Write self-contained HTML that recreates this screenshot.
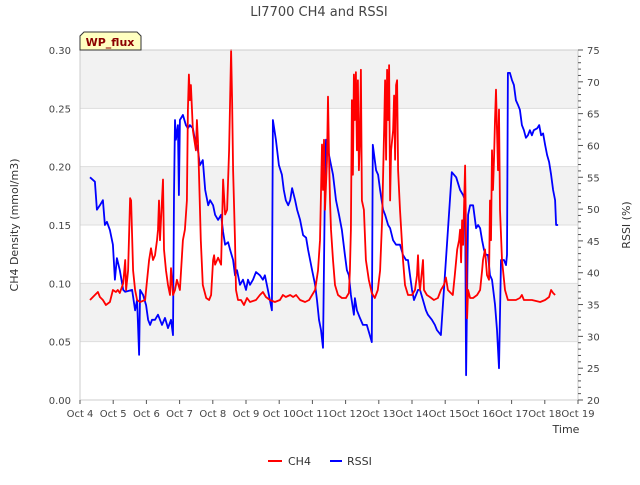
<!DOCTYPE html>
<html><head><meta charset="utf-8"><style>
body{margin:0;background:#fff;}
svg{font-family:"DejaVu Sans","Liberation Sans",sans-serif;}
</style></head><body>
<svg id="chart" width="640" height="480" viewBox="0 0 640 480" xmlns="http://www.w3.org/2000/svg">
<text x="319" y="16" text-anchor="middle" font-size="13" fill="#444">LI7700 CH4 and RSSI</text>
<g id="bands"></g>
<g id="grid"></g>
<g id="series"></g>
<g id="axes"></g>
<text transform="translate(18,225) rotate(-90)" text-anchor="middle" font-size="11" fill="#333">CH4 Density (mmol/m3)</text>
<text transform="translate(630,225) rotate(-90)" text-anchor="middle" font-size="11" fill="#333">RSSI (%)</text>
<text x="566" y="433" text-anchor="middle" font-size="11" fill="#333">Time</text>
<g>
<path d="M84,32 L137,32 L141,36 L141,50 L80,50 L80,36 Z" fill="#ffffc0" stroke="#333" stroke-width="1"/>
<text x="110" y="46" text-anchor="middle" font-size="11" font-weight="bold" fill="#8b0000">WP_flux</text>
</g>
<g>
<g><line x1="268" y1="461" x2="282" y2="461" stroke="#f00" stroke-width="2"/><text x="288" y="465" font-size="11" fill="#333">CH4</text></g>
<g><line x1="330" y1="461" x2="342" y2="461" stroke="#00f" stroke-width="2"/><text x="347" y="465" font-size="11" fill="#333">RSSI</text></g>
</g>
</svg>
<script>
const ch4Days=[.30,.45,.54,.60,.69,.78,.90,.99,1.08,1.14,1.20,1.30,1.36,1.39,1.45,1.51,1.54,1.60,1.66,1.72,1.81,1.96,2.02,2.08,2.14,2.20,2.26,2.32,2.35,2.38,2.41,2.50,2.53,2.59,2.65,2.71,2.74,2.80,2.86,2.92,3.01,3.10,3.16,3.22,3.25,3.28,3.31,3.34,3.40,3.49,3.52,3.55,3.58,3.64,3.70,3.80,3.89,3.95,4.01,4.04,4.07,4.16,4.25,4.31,4.37,4.43,4.49,4.55,4.58,4.61,4.67,4.70,4.76,4.85,4.94,5.03,5.12,5.30,5.42,5.51,5.60,5.72,5.87,6.02,6.11,6.20,6.33,6.42,6.51,6.63,6.78,6.90,6.99,7.08,7.17,7.23,7.29,7.32,7.35,7.38,7.44,7.47,7.50,7.53,7.56,7.62,7.68,7.77,7.89,8.01,8.10,8.13,8.16,8.19,8.22,8.25,8.28,8.31,8.34,8.37,8.40,8.43,8.46,8.49,8.55,8.61,8.70,8.79,8.88,8.97,9.04,9.10,9.16,9.19,9.22,9.25,9.28,9.31,9.34,9.37,9.43,9.46,9.49,9.52,9.55,9.58,9.64,9.73,9.79,9.88,10.00,10.09,10.15,10.18,10.21,10.24,10.30,10.33,10.36,10.45,10.54,10.66,10.78,10.87,10.96,11.02,11.08,11.14,11.23,11.29,11.36,11.42,11.45,11.48,11.51,11.54,11.60,11.63,11.66,11.69,11.75,11.84,11.96,12.05,12.11,12.14,12.20,12.26,12.32,12.35,12.38,12.41,12.44,12.47,12.50,12.53,12.56,12.59,12.62,12.65,12.71,12.80,12.89,13.13,13.25,13.31,13.37,13.61,13.86,14.01,14.13,14.19,14.25,14.31];
const ch4Values=[.0857,.090,.0926,.0883,.0857,.0814,.084,.0943,.0926,.0943,.0917,.100,.120,.0943,.111,.173,.171,.111,.0943,.0857,.084,.0857,.103,.120,.130,.120,.124,.137,.146,.171,.137,.189,.129,.111,.0986,.090,.113,.090,.0943,.103,.0943,.137,.146,.171,.249,.279,.257,.270,.231,.214,.240,.223,.197,.137,.0986,.0874,.0857,.090,.120,.124,.116,.122,.116,.189,.159,.163,.214,.300,.257,.197,.137,.0943,.0857,.0857,.0814,.0874,.084,.0857,.090,.0926,.0883,.0857,.084,.0857,.090,.0883,.090,.0883,.090,.0857,.084,.0857,.090,.0943,.111,.137,.219,.180,.223,.163,.206,.260,.210,.171,.146,.120,.0986,.090,.0874,.0874,.0917,.111,.146,.257,.193,.279,.240,.281,.214,.274,.197,.223,.283,.171,.163,.120,.103,.0917,.0874,.0943,.111,.154,.231,.274,.206,.283,.240,.287,.171,.214,.231,.261,.206,.270,.274,.197,.163,.120,.0986,.090,.090,.0943,.107,.124,.103,.0943,.111,.120,.0943,.090,.0883,.0857,.0874,.0943,.0986,.105,.0943,.0926,.090,.107,.129,.137,.146,.118,.154,.133,.201,.137,.070,.0943,.0874,.0874,.090,.0943,.111,.120,.129,.107,.103,.171,.137,.214,.180,.206,.240,.266,.231,.197,.249,.163,.120,.0943,.0857,.0857,.0874,.090,.0857,.0857,.084,.0857,.0883,.0943,.0917,.090];
const rssiDays=[.30,.45,.51,.60,.69,.75,.81,.90,.99,1.05,1.11,1.20,1.30,1.36,1.57,1.66,1.72,1.78,1.81,1.90,1.99,2.05,2.11,2.17,2.26,2.35,2.47,2.56,2.65,2.74,2.80,2.83,2.86,2.89,2.95,2.98,3.01,3.10,3.19,3.25,3.31,3.40,3.46,3.55,3.61,3.70,3.77,3.86,3.92,4.01,4.07,4.16,4.25,4.31,4.37,4.46,4.52,4.61,4.67,4.73,4.82,4.91,5.00,5.06,5.12,5.21,5.30,5.42,5.51,5.57,5.66,5.72,5.78,5.81,5.90,5.99,6.08,6.14,6.20,6.27,6.33,6.39,6.48,6.54,6.63,6.72,6.81,6.87,6.93,6.99,7.08,7.14,7.20,7.26,7.32,7.38,7.41,7.47,7.53,7.62,7.71,7.80,7.89,7.98,8.04,8.10,8.16,8.25,8.28,8.34,8.43,8.52,8.64,8.73,8.79,8.82,8.92,8.98,9.04,9.13,9.19,9.28,9.34,9.43,9.52,9.64,9.73,9.82,9.88,9.94,10.00,10.06,10.12,10.18,10.24,10.33,10.42,10.48,10.60,10.69,10.75,10.87,11.20,11.33,11.45,11.54,11.60,11.63,11.69,11.75,11.84,11.93,11.99,12.05,12.11,12.17,12.23,12.29,12.35,12.41,12.50,12.56,12.62,12.68,12.77,12.83,12.86,12.89,12.95,13.01,13.07,13.13,13.19,13.25,13.31,13.37,13.43,13.49,13.55,13.61,13.67,13.77,13.83,13.89,13.95,14.01,14.07,14.13,14.19,14.25,14.31,14.34,14.40];
const rssiValues=[55.0,54.3,49.9,50.6,51.4,47.5,48.0,46.7,44.4,38.9,42.3,40.4,37.3,37.0,37.3,34.1,35.7,27.1,37.3,36.5,34.9,32.6,31.8,32.6,32.6,33.4,31.8,32.9,31.3,32.6,30.2,52.2,64.0,60.9,63.2,52.2,64.0,64.8,63.2,62.7,63.2,62.7,60.9,59.3,56.9,57.7,53.0,50.6,51.4,50.6,49.1,48.3,49.1,46.4,44.4,44.8,43.6,42.0,39.6,40.4,38.1,38.9,37.3,38.9,38.1,38.9,40.1,39.6,38.9,39.6,37.3,35.7,34.1,64.0,60.9,56.9,55.4,53.0,51.4,50.6,51.4,53.3,51.4,49.9,48.3,45.9,45.5,43.6,42.0,40.4,38.1,35.7,32.6,31.0,28.2,54.6,60.9,59.3,57.7,55.4,51.4,49.1,46.7,42.8,40.4,39.6,36.5,33.4,36.0,34.1,32.9,31.8,31.8,30.2,29.1,60.1,56.1,55.4,53.0,49.9,49.1,47.5,47.0,45.1,44.4,44.4,42.8,42.0,42.0,39.6,37.3,35.7,36.5,37.3,37.3,35.7,34.1,33.4,32.6,31.8,31.0,30.2,55.8,55.0,53.0,52.2,51.4,23.9,49.1,50.6,50.6,47.0,47.5,47.0,45.1,43.6,42.8,42.8,39.6,38.9,35.0,31.0,25.0,42.0,42.0,41.2,42.8,71.4,71.4,70.3,69.5,67.1,66.4,65.6,63.2,62.4,61.2,61.6,62.4,61.6,62.4,62.7,63.2,61.6,61.9,60.1,58.5,57.4,55.4,53.0,51.4,47.5,47.5];
const xTickLabels=["Oct 4","Oct 5","Oct 6","Oct 7","Oct 8","Oct 9","Oct 10","Oct 11","Oct 12","Oct 13","Oct 14","Oct 15","Oct 16","Oct 17","Oct 18","Oct 19"];
const leftTicks=[0,0.05,0.10,0.15,0.20,0.25,0.30];
const rightTicks=[20,25,30,35,40,45,50,55,60,65,70,75];

const X0=80,X1=578,Y0=400,Y1=50;
const xScale=d=>X0+(d/15)*(X1-X0);
const yLeft=v=>Y0-(v/0.30)*(Y0-Y1);
const yRight=v=>Y0-((v-20)/55)*(Y0-Y1);
const NS="http://www.w3.org/2000/svg";
function mk(tag,attrs,parent){const e=document.createElementNS(NS,tag);for(const k in attrs)e.setAttribute(k,attrs[k]);parent.appendChild(e);return e;}
const bands=document.getElementById('bands'),grid=document.getElementById('grid'),axes=document.getElementById('axes'),series=document.getElementById('series');
for(let i=0;i<leftTicks.length-1;i++){
  if(i%2===1){const r=mk('rect',{x:X0,y:yLeft(leftTicks[i+1]),width:X1-X0,height:yLeft(leftTicks[i])-yLeft(leftTicks[i+1]),fill:'#f2f2f2'},bands);
  
  }
}
leftTicks.forEach(t=>{
  const l=mk('line',{x1:X0,x2:X1,y1:yLeft(t),y2:yLeft(t),stroke:'#ddd','stroke-width':1},grid);
  
  
  const tx=mk('text',{x:X0-9,y:yLeft(t)+4,'text-anchor':'end','font-size':10,fill:'#444'},axes);
  tx.textContent=t.toFixed(2);
  
  
});
const frame=mk('rect',{x:X0,y:Y1,width:X1-X0,height:Y0-Y1,fill:'none',stroke:'#ccc','stroke-width':1},axes);


xTickLabels.forEach((lab,i)=>{
  const x=xScale(i);
  mk('line',{x1:x,x2:x,y1:Y0,y2:Y0+4,stroke:'#555'},axes);
  const tx=mk('text',{x:x,y:Y0+17,'text-anchor':'middle','font-size':10,fill:'#444'},axes);
  tx.textContent=lab;
  
  
});
for(let v=20;v<=75;v++){
  const y=yRight(v);
  mk('line',{x1:X1,x2:X1+(v%5===0?5:3),y1:y,y2:y,stroke:'#555'},axes);
}
rightTicks.forEach(t=>{
  const tx=mk('text',{x:X1+9,y:yRight(t)+4,'font-size':10,fill:'#444'},axes);
  tx.textContent=t;
  
  
});
const rp=rssiDays.map((d,i)=>(i?'L':'M')+xScale(d).toFixed(1)+','+yRight(rssiValues[i]).toFixed(1)).join('');
const rl=mk('path',{d:rp,fill:'none',stroke:'#00f','stroke-width':1.8,'stroke-linejoin':'round'},series);


const cp=ch4Days.map((d,i)=>(i?'L':'M')+xScale(d).toFixed(1)+','+yLeft(ch4Values[i]).toFixed(1)).join('');
const cl=mk('path',{d:cp,fill:'none',stroke:'#f00','stroke-width':1.8,'stroke-linejoin':'round'},series);


</script>
</body></html>
